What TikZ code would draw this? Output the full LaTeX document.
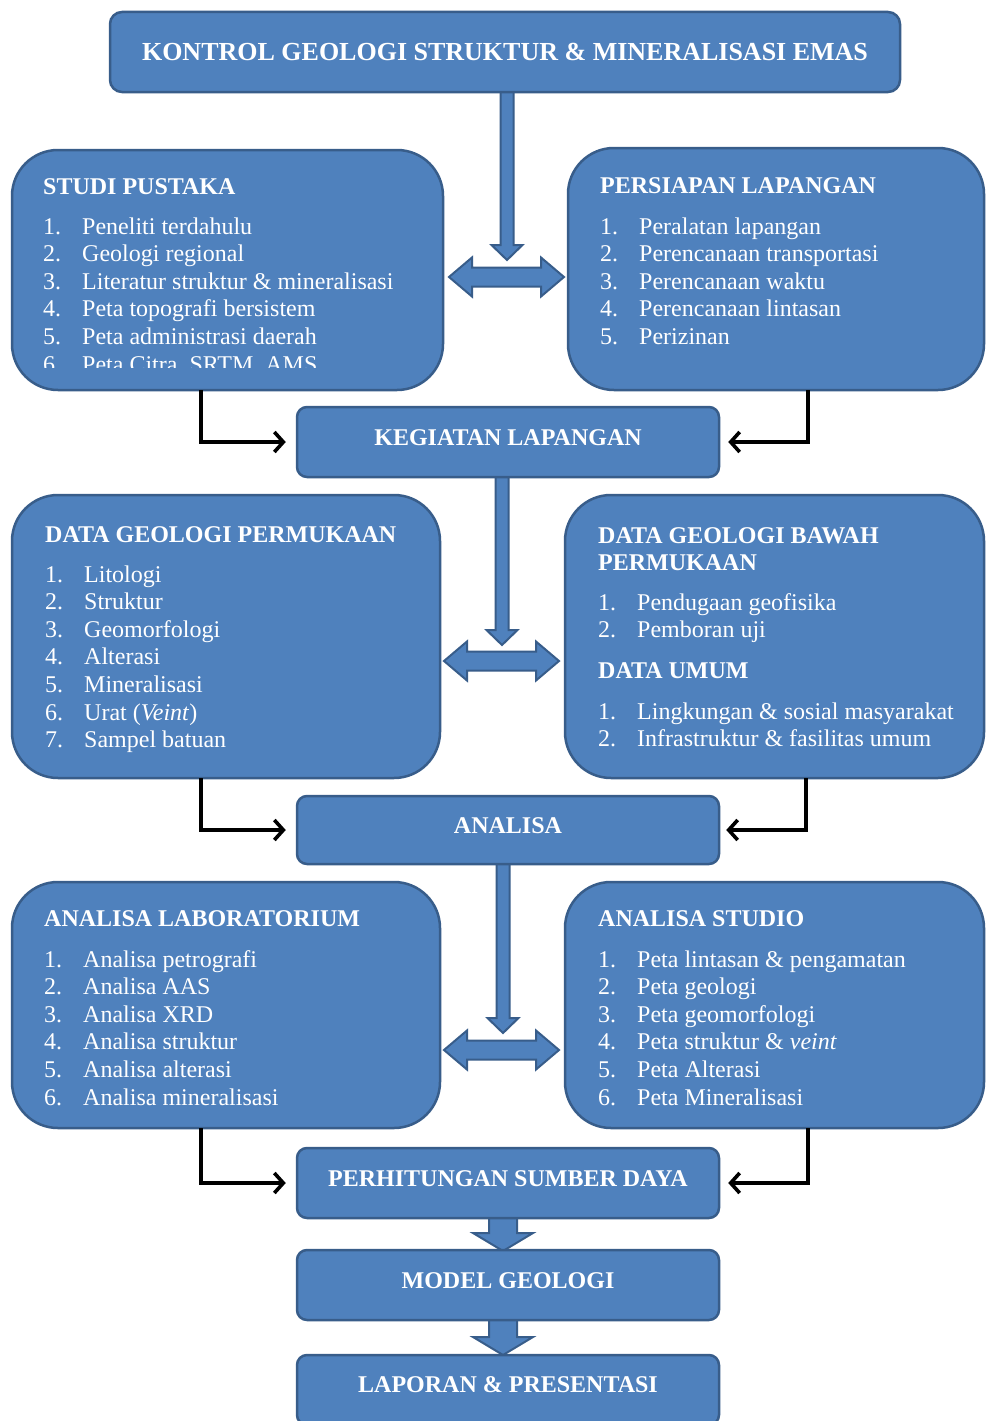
\documentclass[tikz,border=0pt]{standalone}
\usepackage{fontspec}
\setmainfont{Liberation Serif}
\usetikzlibrary{arrows.meta}
\definecolor{boxblue}{HTML}{4F81BD}
\definecolor{boxedge}{HTML}{385D8A}
\tikzset{
  boxbase/.style={draw=boxedge, fill=boxblue, line width=2.5pt, inner sep=0pt},
  bigbox/.style={boxbase, rounded corners=46pt},
  smallbox/.style={boxbase, rounded corners=10pt, minimum width=422pt, minimum height=70pt},
  hd/.style={text=white, font=\fontsize{24}{27}\selectfont\bfseries, anchor=base west, inner sep=0pt},
  lst/.style={text=white, font=\fontsize{24}{27.6}\selectfont, anchor=base west, inner sep=0pt},
  ctr/.style={text=white, font=\fontsize{24}{27}\selectfont\bfseries, anchor=base, inner sep=0pt},
  elbow/.style={line width=3.6pt, -{Straight Barb[length=9pt,width=20pt,line width=3.6pt]}},
  barrow/.style={fill=boxblue, draw=boxedge, line width=2pt, line join=miter},
}
% vertical block arrow: x, ytop, ytip, shaft half, head half, head length
\newcommand{\vblock}[6]{%
  \filldraw[barrow] (#1-#4,#2) -- (#1+#4,#2) -- (#1+#4,#3-#6) -- (#1+#5,#3-#6)
    -- (#1,#3) -- (#1-#5,#3-#6) -- (#1-#4,#3-#6) -- cycle;}
% double horizontal block arrow: x1, x2, yc, shaft half, head half, head length
\newcommand{\hblock}[6]{%
  \filldraw[barrow] (#1,#3) -- (#1+#6,#3-#5) -- (#1+#6,#3-#4) -- (#2-#6,#3-#4)
    -- (#2-#6,#3-#5) -- (#2,#3) -- (#2-#6,#3+#5) -- (#2-#6,#3+#4)
    -- (#1+#6,#3+#4) -- (#1+#6,#3+#5) -- cycle;}
\newcommand{\numlist}[1]{\begin{tabular}[t]{@{}p{39pt}@{}l@{}}#1\end{tabular}}
\begin{document}
\begin{tikzpicture}[x=1pt,y=-1pt]
\clip (0,0) rectangle (986,1421);
\fill[white] (0,0) rectangle (986,1421);

% block arrows (drawn first so box borders cover their joins)
\vblock{507}{90}{260}{6.5}{15.5}{15}
\hblock{449}{564}{277}{9.5}{19.5}{23}
\vblock{502}{475}{645}{6.5}{15.5}{15}
\hblock{444}{559}{661}{9.5}{19.5}{23}
\vblock{503}{862}{1033}{6.5}{15.5}{15}
\hblock{444}{559}{1050}{9.5}{19.5}{23}
\vblock{503}{1216}{1251}{14}{30}{18}
\vblock{503}{1318}{1355}{14}{30}{18}

% title
\node[boxbase, rounded corners=12pt, minimum width=790pt, minimum height=80pt] (title) at (505,52) {};
\node[ctr, font=\fontsize{26}{28}\selectfont\bfseries] (titletext) at (505,61) {KONTROL GEOLOGI STRUKTUR \& MINERALISASI EMAS};

% STUDI PUSTAKA
\node[bigbox, minimum width=431pt, minimum height=240pt] (studi) at (227.5,270) {};
\node[hd] (studihd) at (43,194) {STUDI PUSTAKA};
\begin{scope}
\clip (12,150) rectangle (443,367);
\node[lst] (studilst) at (43,234) {\numlist{1. & Peneliti terdahulu\\ 2. & Geologi regional\\ 3. & Literatur struktur \& mineralisasi\\ 4. & Peta topografi bersistem\\ 5. & Peta administrasi daerah\\ 6. & Peta Citra, SRTM, AMS}};
\end{scope}

% PERSIAPAN LAPANGAN
\node[bigbox, minimum width=416pt, minimum height=242pt] (persiapan) at (776,269) {};
\node[hd] (persiapanhd) at (600,193) {PERSIAPAN LAPANGAN};
\node[lst] (persiapanlst) at (600,234) {\numlist{1. & Peralatan lapangan\\ 2. & Perencanaan transportasi\\ 3. & Perencanaan waktu\\ 4. & Perencanaan lintasan\\ 5. & Perizinan}};

% KEGIATAN LAPANGAN
\node[smallbox] (kegiatan) at (508,442) {};
\node[ctr] (kegiatantext) at (508,445) {KEGIATAN LAPANGAN};

% DATA GEOLOGI PERMUKAAN
\node[bigbox, minimum width=428pt, minimum height=283pt] (dgp) at (226,636.5) {};
\node[hd] (dgphd) at (45,542) {DATA GEOLOGI PERMUKAAN};
\node[lst] (dgplst) at (45,582) {\numlist{1. & Litologi\\ 2. & Struktur\\ 3. & Geomorfologi\\ 4. & Alterasi\\ 5. & Mineralisasi\\ 6. & Urat (\textit{Veint})\\ 7. & Sampel batuan}};

% DATA GEOLOGI BAWAH PERMUKAAN
\node[bigbox, minimum width=419pt, minimum height=283pt] (dgbp) at (774.5,636.5) {};
\node[hd] (dgbphd) at (598,543) {\begin{tabular}[t]{@{}l@{}}DATA GEOLOGI BAWAH\\ PERMUKAAN\end{tabular}};
\node[lst] (dgbplst) at (598,610) {\numlist{1. & Pendugaan geofisika\\ 2. & Pemboran uji}};
\node[hd] (umumhd) at (598,678) {DATA UMUM};
\node[lst] (umumlst) at (598,719) {\numlist{1. & Lingkungan \& sosial masyarakat\\ 2. & Infrastruktur \& fasilitas umum}};

% ANALISA
\node[smallbox, minimum height=68pt] (analisa) at (508,830) {};
\node[ctr] (analisatext) at (508,833) {ANALISA};

% ANALISA LABORATORIUM
\node[bigbox, minimum width=428pt, minimum height=246pt] (lab) at (226,1005) {};
\node[hd] (labhd) at (44,926) {ANALISA LABORATORIUM};
\node[lst] (lablst) at (44,967) {\numlist{1. & Analisa petrografi\\ 2. & Analisa AAS\\ 3. & Analisa XRD\\ 4. & Analisa struktur\\ 5. & Analisa alterasi\\ 6. & Analisa mineralisasi}};

% ANALISA STUDIO
\node[bigbox, minimum width=419pt, minimum height=246pt] (studio) at (774.5,1005) {};
\node[hd] (studiohd) at (598,926) {ANALISA STUDIO};
\node[lst] (studiolst) at (598,967) {\numlist{1. & Peta lintasan \& pengamatan\\ 2. & Peta geologi\\ 3. & Peta geomorfologi\\ 4. & Peta struktur \& \textit{veint}\\ 5. & Peta Alterasi\\ 6. & Peta Mineralisasi}};

% PERHITUNGAN SUMBER DAYA, MODEL GEOLOGI, LAPORAN
\node[smallbox] (hitung) at (508,1183) {};
\node[ctr] (hitungtext) at (508,1186) {PERHITUNGAN SUMBER DAYA};
\node[smallbox] (model) at (508,1285) {};
\node[ctr] (modeltext) at (508,1288) {MODEL GEOLOGI};
\node[smallbox] (laporan) at (508,1390) {};
\node[ctr] (laporantext) at (508,1392) {LAPORAN \& PRESENTASI};

% elbow connectors
\coordinate (s1) at (201,390);
\coordinate (p1) at (808,390);
\coordinate (s2) at (201,778);
\coordinate (p2) at (806,778);
\coordinate (s3) at (201,1128);
\coordinate (p3) at (808,1128);
\draw[elbow, shorten >=10pt] (s1) |- (kegiatan.west);
\draw[elbow, shorten >=8pt] (p1) |- (kegiatan.east);
\draw[elbow, shorten >=10pt] (s2) |- (analisa.west);
\draw[elbow, shorten >=6pt] (p2) |- (analisa.east);
\draw[elbow, shorten >=10pt] (s3) |- (hitung.west);
\draw[elbow, shorten >=8pt] (p3) |- (hitung.east);
\end{tikzpicture}
\end{document}
